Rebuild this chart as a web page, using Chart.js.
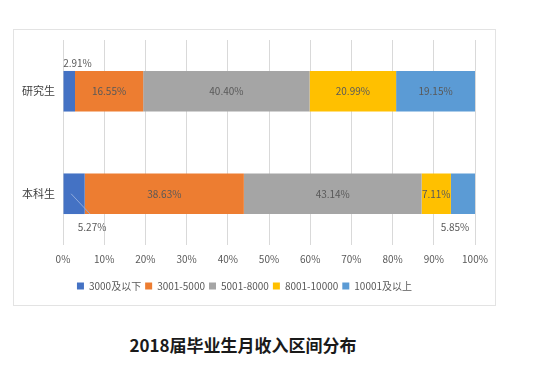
<!DOCTYPE html>
<html>
<head>
<meta charset="utf-8">
<script src="https://cdn.jsdelivr.net/npm/chart.js@4.4.0/dist/chart.umd.min.js"></script>
<style>
  html, body { margin: 0; padding: 0; background: #fff; }
  body { width: 550px; height: 388px; position: relative; overflow: hidden; }
  #box {
    position: absolute; left: 13px; top: 29px; width: 481px; height: 275px;
    border: 1px solid #e3e3e3;
  }
  #title {
    position: absolute; left: 0; width: 486px; top: 332px; text-align: center;
    font-family: "Noto Sans CJK SC", sans-serif; font-weight: bold; font-size: 17px; color: #1a1a1a;
  }
</style>
</head>
<body>
<div id="box"><canvas id="chart" width="481" height="275"></canvas></div>
<div id="title">2018届毕业生月收入区间分布</div>
<script>
// categories and series (percent of graduates per monthly income band)
const categories = ['研究生', '本科生'];
const seriesNames = ['3000及以下', '3001-5000', '5001-8000', '8001-10000', '10001及以上'];
const band3000 = [2.91, 5.27];
const band5000 = [16.55, 38.63];
const band8000 = [40.40, 43.14];
const band10000 = [20.99, 7.11];
const band10001 = [19.15, 5.85];
const xTicks = [0, 10, 20, 30, 40, 50, 60, 70, 80, 90, 100];

const colors = ['#4472C4', '#ED7D31', '#A5A5A5', '#FFC000', '#5B9BD5'];
const allSeries = [band3000, band5000, band8000, band10000, band10001];

const fontFamily = '"Noto Sans CJK SC", "Noto Sans", sans-serif';

// draws the percentage labels; small slices get their label outside the bar
const labelPlugin = {
    id: 'barLabels',
    afterDatasetsDraw(chart) {
        const ctx = chart.ctx;
        ctx.save();
        ctx.font = '10px ' + fontFamily;
        ctx.textAlign = 'center';
        ctx.textBaseline = 'middle';
        chart.data.datasets.forEach((ds, di) => {
            const meta = chart.getDatasetMeta(di);
            meta.data.forEach((bar, i) => {
                const v = ds.data[i];
                const text = v.toFixed(2) + '%';
                const left = Math.min(bar.x, bar.base);
                const right = Math.max(bar.x, bar.base);
                const cx = (left + right) / 2;
                const h = bar.height;
                ctx.fillStyle = '#595959';
                if (v >= 7) {
                    ctx.fillText(text, cx, bar.y);
                } else if (i === 0) {
                    // above the bar
                    ctx.fillText(text, left + 14, bar.y - h / 2 - 8);
                } else if (di === 0) {
                    // below with leader line
                    ctx.strokeStyle = '#8faadc';
                    ctx.lineWidth = 1;
                    ctx.beginPath();
                    ctx.moveTo(cx - 3, bar.y);
                    ctx.lineTo(cx + 16, bar.y + h / 2);
                    ctx.stroke();
                    ctx.fillText(text, cx + 18, bar.y + h / 2 + 13);
                } else {
                    ctx.fillText(text, cx - 8, bar.y + h / 2 + 13);
                }
            });
        });
        ctx.restore();
    }
};

const ctx = document.getElementById('chart').getContext('2d');
const chart = new Chart(ctx, {
    type: 'bar',
    data: {
        labels: categories,
        datasets: seriesNames.map((name, k) => ({
            label: name,
            data: allSeries[k],
            backgroundColor: colors[k],
            borderWidth: 0,
            categoryPercentage: 1,
            barPercentage: 0.396
        }))
    },
    options: {
        indexAxis: 'y',
        responsive: false,
        animation: false,
        layout: { padding: { top: 10, right: 20, left: 0, bottom: 4 } },
        scales: {
            x: {
                stacked: true,
                min: 0,
                max: 100,
                afterBuildTicks(axis) { axis.ticks = xTicks.map(v => ({ value: v })); },
                afterFit(axis) {
                    axis.paddingLeft = 0;
                    axis.paddingRight = 0;
                    axis.height = 32;
                },
                grid: { color: '#d9d9d9', drawTicks: false },
                border: { display: false },
                ticks: {
                    padding: 8,
                    color: '#595959',
                    font: { size: 10, family: fontFamily },
                    callback: v => v + '%'
                }
            },
            y: {
                stacked: true,
                afterFit(axis) {
                    axis.width = 49;
                    axis.paddingTop = 0;
                    axis.paddingBottom = 0;
                },
                grid: { display: false, drawTicks: false },
                border: { display: false },
                ticks: {
                    padding: 8,
                    color: '#404040',
                    font: { size: 11, family: fontFamily }
                }
            }
        },
        plugins: {
            legend: {
                position: 'bottom',
                labels: {
                    boxWidth: 7,
                    boxHeight: 7,
                    padding: 4,
                    color: '#595959',
                    font: { size: 10, family: fontFamily }
                }
            },
            tooltip: { enabled: false }
        }
    },
    plugins: [labelPlugin]
});
</script>
</body>
</html>
